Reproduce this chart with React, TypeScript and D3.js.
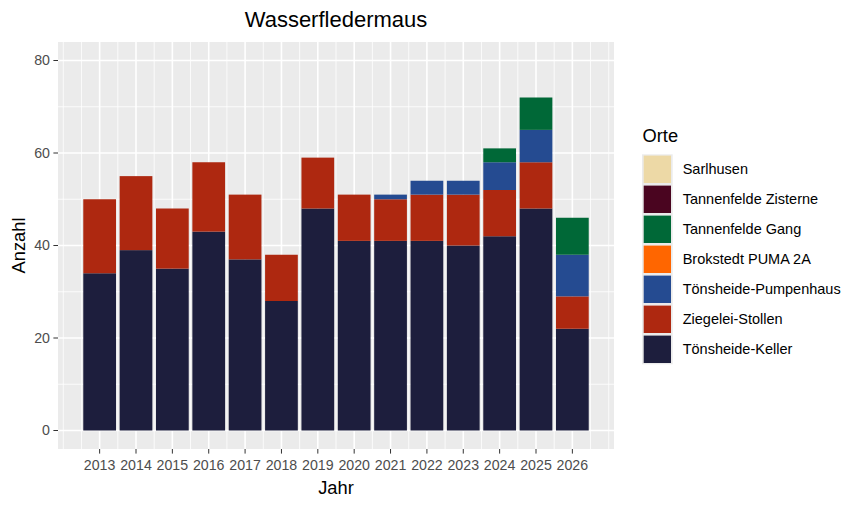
import React from "react";
import { scaleLinear, stack, range } from "d3";

const years = [2013, 2014, 2015, 2016, 2017, 2018, 2019, 2020, 2021, 2022, 2023, 2024, 2025, 2026];

// counts per site, bottom of the stack first
const toensheideKeller = [34, 39, 35, 43, 37, 28, 48, 41, 41, 41, 40, 42, 48, 22];
const ziegeleiStollen = [16, 16, 13, 15, 14, 10, 11, 10, 9, 10, 11, 10, 10, 7];
const toensheidePumpenhaus = [0, 0, 0, 0, 0, 0, 0, 0, 1, 3, 3, 6, 7, 9];
const brokstedtPuma = [0, 0, 0, 0, 0, 0, 0, 0, 0, 0, 0, 0, 0, 0];
const tannenfeldeGang = [0, 0, 0, 0, 0, 0, 0, 0, 0, 0, 0, 3, 7, 8];
const tannenfeldeZisterne = [0, 0, 0, 0, 0, 0, 0, 0, 0, 0, 0, 0, 0, 0];
const sarlhusen = [0, 0, 0, 0, 0, 0, 0, 0, 0, 0, 0, 0, 0, 0];

const seriesNames = [
  "Tönsheide-Keller",
  "Ziegelei-Stollen",
  "Tönsheide-Pumpenhaus",
  "Brokstedt PUMA 2A",
  "Tannenfelde Gang",
  "Tannenfelde Zisterne",
  "Sarlhusen",
];
const seriesValues = [
  toensheideKeller,
  ziegeleiStollen,
  toensheidePumpenhaus,
  brokstedtPuma,
  tannenfeldeGang,
  tannenfeldeZisterne,
  sarlhusen,
];
const seriesColors = ["#1D1E3D", "#AE2810", "#254B91", "#FF6600", "#006837", "#4A0520", "#EDD9A6"];

const yTicks = [0, 20, 40, 60, 80];
const yMinor = [10, 30, 50, 70];

const W = 862;
const H = 507;
const panel = { left: 58, right: 614, top: 42, bottom: 449 };
const font = "'Liberation Sans', Arial, sans-serif";

const App: React.FC = () => {
  const x = scaleLinear().domain([2011.855, 2027.145]).range([panel.left, panel.right]);
  const y = scaleLinear().domain([-4, 84]).range([panel.bottom, panel.top]);

  const rows = years.map((yr, i) => {
    const r: Record<string, number> = { year: yr };
    seriesNames.forEach((n, k) => (r[n] = seriesValues[k][i]));
    return r;
  });
  const stacked = stack<Record<string, number>>().keys(seriesNames)(rows);

  const xMinor = range(2012, 2027.5, 0.5).filter((v) => !years.includes(v));
  const legendItems = seriesNames.map((n, i) => ({ name: n, color: seriesColors[i] })).reverse();
  const keyH = 30;
  const keyTop = 154.3;

  return (
    <svg width={W} height={H} style={{ position: "absolute", left: 0, top: 0 }} fontFamily={font}>
      <rect width={W} height={H} fill="#fff" />
      <rect
        x={panel.left}
        y={panel.top}
        width={panel.right - panel.left}
        height={panel.bottom - panel.top}
        fill="#EBEBEB"
      />
      {/* grid */}
      {yMinor.map((v) => (
        <line key={"ym" + v} x1={panel.left} x2={panel.right} y1={y(v)} y2={y(v)} stroke="#fff" strokeWidth={0.8} />
      ))}
      {xMinor.map((v) => (
        <line key={"xm" + v} y1={panel.top} y2={panel.bottom} x1={x(v)} x2={x(v)} stroke="#fff" strokeWidth={0.8} />
      ))}
      {yTicks.map((v) => (
        <line key={"yM" + v} x1={panel.left} x2={panel.right} y1={y(v)} y2={y(v)} stroke="#fff" strokeWidth={1.6} />
      ))}
      {years.map((v) => (
        <line key={"xM" + v} y1={panel.top} y2={panel.bottom} x1={x(v)} x2={x(v)} stroke="#fff" strokeWidth={1.6} />
      ))}
      {/* bars */}
      {stacked.map((s, k) => (
        <g key={s.key} fill={seriesColors[k]}>
          {s.map((d, i) =>
            d[1] - d[0] > 0 ? (
              <rect
                key={i}
                x={x(years[i] - 0.45)}
                width={x(years[i] + 0.45) - x(years[i] - 0.45)}
                y={y(d[1])}
                height={y(d[0]) - y(d[1])}
              />
            ) : null
          )}
        </g>
      ))}
      {/* y axis */}
      {yTicks.map((v) => (
        <g key={"yt" + v}>
          <line x1={panel.left - 4.6} x2={panel.left} y1={y(v)} y2={y(v)} stroke="#333" strokeWidth={1} />
          <text x={panel.left - 8} y={y(v)} dy="0.35em" textAnchor="end" fontSize={14.2} fill="#4D4D4D">
            {v}
          </text>
        </g>
      ))}
      {/* x axis */}
      {years.map((v) => (
        <g key={"xt" + v}>
          <line x1={x(v)} x2={x(v)} y1={panel.bottom} y2={panel.bottom + 4.6} stroke="#333" strokeWidth={1} />
          <text x={x(v)} y={470} textAnchor="middle" fontSize={14.2} fill="#4D4D4D">
            {v}
          </text>
        </g>
      ))}
      <text x={(panel.left + panel.right) / 2} y={494} textAnchor="middle" fontSize={18.3} fill="#000">
        Jahr
      </text>
      <text
        transform={`translate(25,${(panel.top + panel.bottom) / 2}) rotate(-90)`}
        textAnchor="middle"
        fontSize={18.3}
        fill="#000"
      >
        Anzahl
      </text>
      <text x={(panel.left + panel.right) / 2} y={27} textAnchor="middle" fontSize={22} fill="#000">
        Wasserfledermaus
      </text>
      {/* legend */}
      <text x={642.5} y={142} fontSize={18.3} fill="#000">
        Orte
      </text>
      <rect x={642} y={keyTop} width={30.7} height={keyH * legendItems.length} fill="#EBEBEB" />
      {legendItems.map((d, i) => (
        <g key={d.name}>
          <rect x={643.7} y={keyTop + i * keyH + 1.3} width={27.3} height={keyH - 2.6} fill={d.color} />
          <text x={682.7} y={keyTop + i * keyH + keyH / 2} dy="0.35em" fontSize={14.5} fill="#000">
            {d.name}
          </text>
        </g>
      ))}
    </svg>
  );
};

export default App;
